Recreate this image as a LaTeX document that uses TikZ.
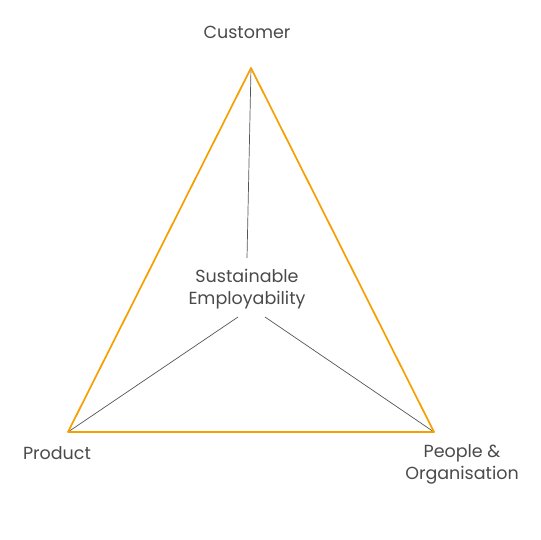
\documentclass[tikz,border=0pt]{standalone}
\usepackage{fontspec}
\setmainfont{Poppins}
\definecolor{tri}{HTML}{F5A000}
\definecolor{txt}{HTML}{4A4A4A}
\definecolor{ln}{HTML}{555555}
\begin{document}
\begin{tikzpicture}[x=1pt,y=-1pt,
  lbl/.style={text=txt,font=\fontsize{17.5}{22}\selectfont,align=center,inner sep=0pt},
  edge/.style={draw=tri,line width=1.7pt,line join=round},
  spoke/.style={draw=ln,line width=0.7pt}]
\useasboundingbox (0,0) rectangle (540,540);
\coordinate (C) at (251,68);
\coordinate (P) at (68,432);
\coordinate (O) at (434,432);
\node[lbl] (cust) at (247,32) {Customer};
\node[lbl] (prod) at (57,453) {Product};
\node[lbl] (peop) at (462,464) {People \&\\Organisation};
\node[lbl] (sus) at (247,289) {Sustainable\\Employability};
\coordinate (st) at (247,258);
\coordinate (sl) at (238,317);
\coordinate (sr) at (265,317);
\draw[spoke] (st) -- (C);
\draw[spoke] (sl) -- (P);
\draw[spoke] (sr) -- (O);
\draw[edge] (C) -- (P) -- (O) -- cycle;
\end{tikzpicture}
\end{document}
